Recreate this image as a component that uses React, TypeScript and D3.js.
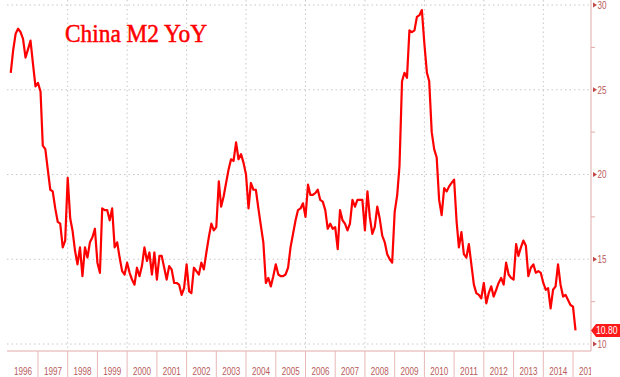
import React from "react";
import * as d3 from "d3";

const START_YEAR = 1996;
// Monthly China M2 YoY (%), Jan 1996 .. Jan 2015
const m2_1996 = [26.0, 27.3, 28.3, 28.6, 28.4, 28.0, 26.9, 27.4, 27.9, 26.5, 25.2, 25.4];
const m2_1997 = [24.9, 21.7, 21.5, 20.3, 19.1, 19.0, 18.0, 17.2, 17.1, 15.7, 16.1, 19.8];
const m2_1998 = [17.4, 16.7, 15.5, 14.7, 15.7, 14.0, 15.7, 15.1, 16.0, 16.3, 16.8, 14.8];
const m2_1999 = [14.2, 18.0, 17.9, 17.9, 17.3, 18.0, 15.7, 16.0, 15.1, 14.3, 14.1, 14.8];
const m2_2000 = [14.2, 13.8, 13.5, 14.5, 14.0, 14.6, 15.7, 14.9, 15.4, 14.1, 15.4, 13.8];
const m2_2001 = [15.2, 15.2, 14.5, 13.8, 14.6, 14.4, 13.6, 13.6, 13.5, 12.9, 13.3, 14.7];
const m2_2002 = [13.1, 13.0, 14.5, 14.3, 14.1, 14.8, 14.4, 15.4, 16.3, 17.1, 16.7, 16.9];
const m2_2003 = [19.6, 18.1, 18.7, 19.5, 20.3, 20.9, 20.8, 21.9, 20.9, 21.2, 20.7, 20.0];
const m2_2004 = [18.0, 19.5, 19.1, 19.1, 18.0, 17.0, 16.0, 13.6, 13.9, 13.4, 14.0, 14.7];
const m2_2005 = [14.1, 14.0, 14.0, 14.1, 14.5, 15.7, 16.5, 17.3, 17.9, 18.0, 18.3, 17.5];
const m2_2006 = [19.4, 18.8, 18.8, 18.9, 19.1, 18.5, 18.4, 17.9, 16.8, 17.1, 16.8, 16.9];
const m2_2007 = [15.6, 17.9, 17.3, 17.1, 16.7, 17.1, 18.5, 18.1, 18.5, 18.5, 18.5, 16.7];
const m2_2008 = [19.0, 17.5, 16.5, 16.9, 18.1, 17.4, 16.4, 16.0, 15.3, 15.0, 14.8, 17.8];
const m2_2009 = [18.8, 20.5, 25.5, 26.0, 25.7, 28.5, 28.4, 28.5, 29.3, 29.4, 29.7, 27.7];
const m2_2010 = [26.0, 25.5, 22.5, 21.5, 21.0, 18.5, 17.6, 19.2, 19.0, 19.3, 19.5, 19.7];
const m2_2011 = [17.2, 15.7, 16.6, 15.3, 15.1, 15.9, 14.7, 13.5, 13.0, 12.9, 12.7, 13.6];
const m2_2012 = [12.4, 13.0, 13.4, 12.8, 13.2, 13.6, 13.9, 13.5, 14.8, 14.1, 13.9, 13.8];
const m2_2013 = [15.9, 15.2, 15.7, 16.1, 15.8, 14.0, 14.5, 14.7, 14.2, 14.3, 14.2, 13.6];
const m2_2014 = [13.2, 13.3, 12.1, 13.2, 13.4, 14.7, 13.5, 12.8, 12.9, 12.6, 12.3, 12.2];
const m2_2015 = [10.8];

const values: number[] = [
  ...m2_1996, ...m2_1997, ...m2_1998, ...m2_1999, ...m2_2000, ...m2_2001,
  ...m2_2002, ...m2_2003, ...m2_2004, ...m2_2005, ...m2_2006, ...m2_2007,
  ...m2_2008, ...m2_2009, ...m2_2010, ...m2_2011, ...m2_2012, ...m2_2013,
  ...m2_2014, ...m2_2015,
];

const yTicks = [10, 15, 20, 25, 30];
const yMinorTicks = [12.5, 17.5, 22.5, 27.5];
const yearLabels = d3.range(1996, 2016);
const gridYears = [1998, 2000, 2002, 2004, 2006, 2008, 2010, 2012, 2014];
const lastLabel = "10.80";
const title = "China M2 YoY";

const W = 620;
const H = 377;
const plotLeft = 7;
const plotRight = 591;
const plotTop = 0;
const axisY = 351;

const axisFont = "Liberation Sans, Arial, sans-serif";

export default function App() {
  const x = d3
    .scaleTime()
    .domain([new Date(1997, 0, 1), new Date(2015, 0, 1)])
    .range([38, 573]);
  const y = d3.scaleLinear().domain([10, 30]).range([344, 5]);

  // points placed at month end
  const data = values.map((v, i) => ({
    date: new Date(START_YEAR, i + 1, 1),
    v,
  }));

  const line = d3
    .line<{ date: Date; v: number }>()
    .x((d) => x(d.date))
    .y((d) => y(d.v));

  const last = data[data.length - 1];
  const ly = y(last.v);

  const yearStarts = yearLabels.map((yr) => x(new Date(yr, 0, 1)));
  const yearW = yearStarts[1] - yearStarts[0];

  return (
    <svg width={W} height={H} style={{ display: "block", position: "absolute", left: 0, top: 0, background: "#fff" }}>
      <defs>
        <clipPath id="plotclip">
          <rect x={plotLeft} y={plotTop} width={plotRight - plotLeft} height={H} />
        </clipPath>
      </defs>
      <rect x={0} y={0} width={W} height={H} fill="#fff" />
      {/* horizontal grid */}
      {yTicks.map((t) => (
        <line
          key={"h" + t}
          x1={plotLeft}
          x2={plotRight}
          y1={y(t)}
          y2={y(t)}
          stroke="#c8c8c8"
          strokeWidth={1}
          strokeDasharray="1.5,3"
        />
      ))}
      {/* vertical grid */}
      {gridYears.map((yr) => (
        <line
          key={"v" + yr}
          x1={x(new Date(yr, 0, 1))}
          x2={x(new Date(yr, 0, 1))}
          y1={plotTop}
          y2={axisY}
          stroke="#c8c8c8"
          strokeWidth={1}
          strokeDasharray="1.5,3"
        />
      ))}
      {/* bottom axis */}
      <line x1={plotLeft} x2={plotRight} y1={axisY} y2={axisY} stroke="#e2a9a9" strokeWidth={1} />
      {yearStarts.map((xs, i) =>
        i === 0 ? null : (
          <line key={"t" + i} x1={xs} x2={xs} y1={axisY} y2={H} stroke="#e8b8b8" strokeWidth={1} />
        )
      )}
      <g clipPath="url(#plotclip)">
        {yearLabels.map((yr, i) => {
          const xs = yearStarts[i];
          return (
            <text
              key={"yl" + yr}
              x={xs + yearW / 2 - 9}
              y={375}
              fontFamily={axisFont}
              fontSize={11}
              fill="#b85a5a"
              textLength={18}
              lengthAdjust="spacingAndGlyphs"
            >
              {yr}
            </text>
          );
        })}
      </g>
      {/* right axis */}
      <line x1={plotRight} x2={plotRight} y1={0} y2={axisY} stroke="#e2a9a9" strokeWidth={1} />
      {yMinorTicks.map((t) => (
        <line key={"mt" + t} x1={plotRight} x2={plotRight + 4} y1={y(t)} y2={y(t)} stroke="#e2a9a9" strokeWidth={1} />
      ))}
      {yTicks.map((t) => (
        <g key={"yt" + t}>
          <path
            d={`M${plotRight + 2},${y(t) - 2.5} L${plotRight + 6},${y(t)} L${plotRight + 2},${y(t) + 2.5} Z`}
            fill="#c04848"
          />
          <text
            x={plotRight + 6.5}
            y={y(t) + 3.8}
            fontFamily={axisFont}
            fontSize={10.5}
            fill="#b85a5a"
            textLength={9}
            lengthAdjust="spacingAndGlyphs"
          >
            {t}
          </text>
        </g>
      ))}
      {/* series */}
      <path
        d={line(data) || ""}
        fill="none"
        stroke="#ff0000"
        strokeWidth={2.2}
        strokeLinejoin="round"
      />
      {/* last value label */}
      <path
        d={`M${plotRight},${ly} L${plotRight + 5},${ly - 6.5} L${W},${ly - 6.5} L${W},${ly + 6.5} L${plotRight + 5},${ly + 6.5} Z`}
        fill="#ff1a1a"
      />
      <text
        x={plotRight + 5}
        y={ly + 3.6}
        fontFamily={axisFont}
        fontSize={10}
        fill="#ffffff"
        textLength={21.5}
        lengthAdjust="spacingAndGlyphs"
      >
        {lastLabel}
      </text>
      {/* title */}
      <text
        x={65}
        y={41.5}
        fontFamily="Liberation Serif, Times New Roman, serif"
        fontSize={24.5}
        fill="#ff0000"
        stroke="#ff0000"
        strokeWidth={0.5}
        textLength={142}
        lengthAdjust="spacingAndGlyphs"
      >
        {title}
      </text>
    </svg>
  );
}
